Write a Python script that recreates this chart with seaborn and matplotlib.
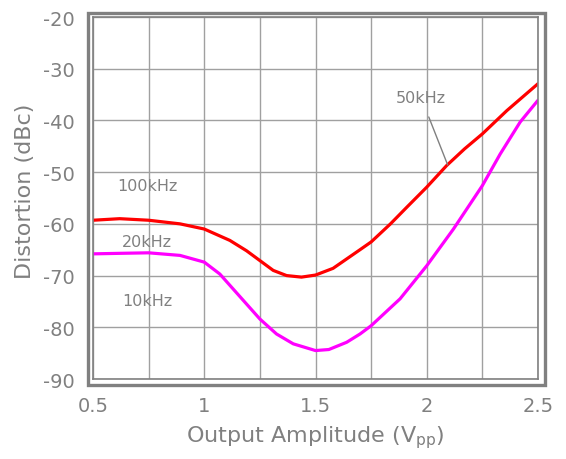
import numpy as np
import pandas as pd
import matplotlib
matplotlib.use("Agg")
import matplotlib.pyplot as plt
import seaborn as sns
from matplotlib.patches import Rectangle

# values
amp_100k = [0.5, 0.62, 0.75, 0.891, 1.0, 1.115, 1.19, 1.25, 1.31, 1.37, 1.437, 1.5, 1.579, 1.7, 1.75,
            1.837, 1.91, 2.0, 2.09, 2.17, 2.25, 2.36, 2.5]
dist_100k = [-59.3, -59.0, -59.3, -60.0, -61.0, -63.2, -65.2, -67.1, -69.0, -70.0, -70.3, -69.9, -68.6, -65.0, -63.5,
             -60.0, -56.8, -52.9, -48.7, -45.5, -42.6, -38.1, -32.9]

amp_10k = [0.5, 0.62, 0.75, 0.891, 1.0, 1.07, 1.13, 1.19, 1.25, 1.325, 1.4, 1.5, 1.56, 1.64, 1.7, 1.75,
           1.88, 2.0, 2.12, 2.25, 2.33, 2.42, 2.5]
dist_10k = [-65.8, -65.7, -65.6, -66.1, -67.4, -69.7, -72.6, -75.5, -78.4, -81.3, -83.2, -84.5, -84.3, -82.9, -81.3, -79.7,
            -74.5, -68.1, -61.0, -52.6, -46.5, -40.3, -36.1]

labels = ["100kHz", "20kHz", "10kHz"]
label_y = [-52.5, -63.5, -74.9]

gray = "#808080"

df = pd.concat([
    pd.DataFrame({"amp": amp_100k, "dist": dist_100k, "curve": "red"}),
    pd.DataFrame({"amp": amp_10k, "dist": dist_10k, "curve": "magenta"}),
])

sns.set_style("white")
plt.rcParams['font.family'] = ['DejaVu Sans']
plt.rcParams['axes.unicode_minus'] = False

fig = plt.figure(figsize=(5.66, 4.60), dpi=100)
ax = fig.add_axes([93/566, 1-380/460, 445/566, 362/460])

sns.lineplot(data=df, x="amp", y="dist", hue="curve", palette={"red": "#ff0000", "magenta": "#ff00ff"},
             linewidth=2.3, legend=False, ax=ax, sort=False, estimator=None,
             solid_joinstyle="round", solid_capstyle="round")

ax.set_xlim(0.5, 2.5)
ax.set_ylim(-90, -20)
ax.set_xticks([0.5, 1, 1.5, 2, 2.5])
ax.set_xticklabels(["0.5", "1", "1.5", "2", "2.5"])
ax.set_xticks(np.arange(0.75, 2.5, 0.5), minor=True)
ax.set_yticks(range(-90, -19, 10))
ax.grid(True, which="both", color="#a0a0a0", linewidth=1.0)
ax.set_axisbelow(True)
ax.tick_params(axis="both", which="both", length=0, labelsize=14, labelcolor=gray)
ax.tick_params(axis="x", pad=12)
ax.tick_params(axis="y", pad=13)
for s in ax.spines.values():
    s.set_color(gray)
    s.set_linewidth(1.2)

ax.set_xlabel("Output Amplitude (V$_{\\mathregular{pp}}$)", fontsize=16, color=gray)
ax.set_ylabel("Distortion (dBc)", fontsize=16, color=gray)
ax.xaxis.set_label_coords(0.5, -0.16)
ax.xaxis.label.set_va("center")
ax.yaxis.set_label_coords(-0.153, 0.52)
ax.yaxis.label.set_va("center")

for lab, yy in zip(labels, label_y):
    ax.text(0.743, yy, lab, fontsize=11.5, color=gray, ha="center", va="center")
ax.annotate("50kHz", xy=(2.094, -48.6), xytext=(1.974, -35.5), fontsize=11.5, color=gray,
            ha="center", va="center",
            arrowprops=dict(arrowstyle="-", color=gray, lw=1.0, shrinkA=7, shrinkB=0))

# outer frame
fig.patches.append(Rectangle((87.5/566, 1-385.5/460), 457/566, 372/460, transform=fig.transFigure,
                             fill=False, edgecolor=gray, linewidth=2.4))

fig.savefig("out.png", dpi=100)
